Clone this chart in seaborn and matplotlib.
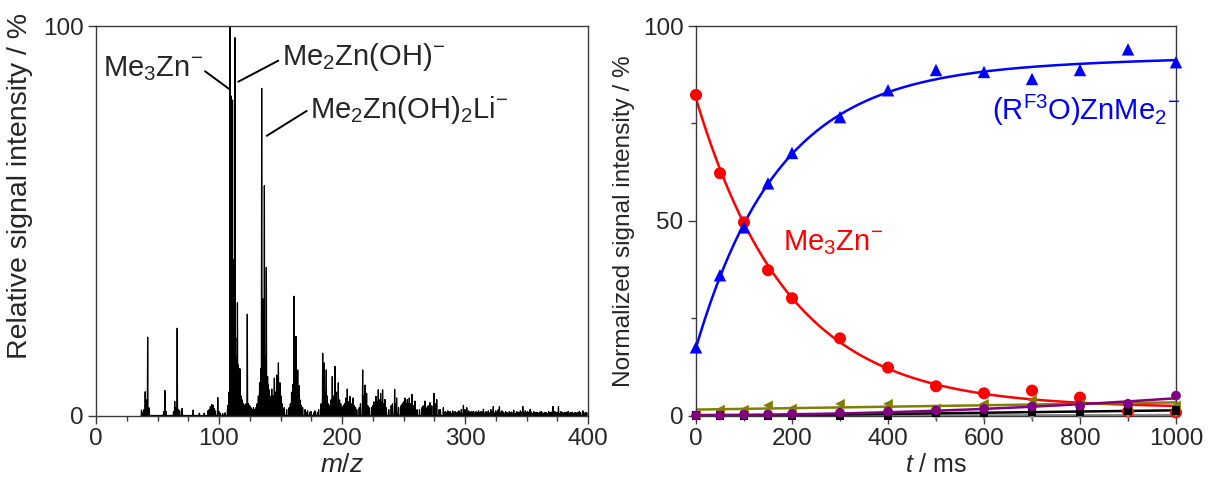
import numpy as np
import pandas as pd
import matplotlib
matplotlib.use("Agg")
import matplotlib.pyplot as plt
import seaborn as sns

# ---------------- mass spectrum (m/z, relative intensity in %) ----------------
peak_mz = [37, 38, 39, 40, 41, 42, 43, 55, 56, 57, 63, 64, 65, 66, 67, 68, 70, 79, 84, 88,
           91, 92, 93, 94, 95, 96, 97, 99, 100,
           107, 108, 109, 110, 110.6, 111, 111.6, 112, 113, 113.5, 114, 115, 115.5, 116, 117,
           118, 119, 120, 121, 122, 123, 124, 125, 126, 127, 128, 129, 130, 131, 132, 133, 134,
           134.7, 135.5, 136, 136.9, 137.5, 138.5, 139.5, 140, 140.7, 141.5, 142.9, 144, 145,
           146, 146.9, 147.5, 148.3, 149.6, 150.5, 151.5, 153, 155, 157, 158, 159, 160, 161,
           161.6, 162.6, 163.2, 164, 165, 166, 167, 168, 170, 172, 175, 178, 181, 183, 184.3,
           184.9, 185.6, 186.3, 187.2, 188, 189, 190, 191, 192.1, 193, 194.3, 195.5, 197, 198,
           199, 200, 201, 202, 203, 204.3, 205.3, 206.5, 207.5, 209, 210, 211, 212, 214, 215,
           216.8, 217.6, 218.7, 220, 221, 222, 224, 225, 226, 227.6, 228.5, 229.5, 230.5, 231.4,
           232.2, 233, 234, 234.9, 236, 238, 240, 241, 242.8, 243.6, 244.4, 246, 248, 249, 250,
           251.2, 252, 253.1, 254, 254.7, 255.8, 256.9, 258, 259.3, 261, 263, 265, 266, 267.5,
           269, 270, 271.5, 273, 274.8, 276, 277, 279, 280, 282.4, 284, 286, 288, 290, 292, 295,
           297, 298.7, 300, 301.4, 303, 305, 307, 309, 311, 313, 315, 317, 319, 321, 323, 325,
           327, 328, 330, 333, 336, 339.6, 342, 345, 347, 349, 351, 353, 356, 359, 362, 365, 368,
           371.5, 373, 376, 378, 381, 384, 387, 390, 393, 395.8, 398]
peak_int = [1.4, 0.8, 1.5, 6.1, 4.0, 20.1, 2.0, 1.0, 6.4, 1.0, 1.0, 3.6, 2.0, 22.4, 1.5, 1.2, 1.8, 1.4, 0.6, 0.6,
            1.2, 1.5, 2.3, 2.8, 2.7, 1.8, 1.2, 4.6, 1.0,
            2.5, 6.0, 100, 82, 80, 81, 40, 30, 97, 20, 15, 29, 13, 12, 12,
            5, 4, 3, 2.5, 3, 26, 3, 2.5, 2, 1.5, 2, 1.5, 2, 3, 5, 8.4, 12,
            84, 30, 20, 59, 15, 38, 10, 8, 6.6, 5, 6.8, 5, 9.6,
            6, 10.4, 7, 13.5, 8.4, 5, 3, 2, 1.5, 2, 3, 6, 8, 30.6,
            12, 20.3, 10, 11.7, 7.7, 4, 2.5, 2, 1.5, 1.2, 1, 1.2, 1.5, 3, 16,
            8, 13.5, 6, 11.7, 5, 3, 2.5, 4, 10, 5, 12.6, 6, 8.4, 4,
            3, 2, 2.5, 3, 4.5, 6.8, 3.5, 4.9, 3, 4.5, 2.5, 2, 1.5, 2, 3,
            11.7, 5, 7.8, 5.7, 2.5, 2, 2, 2.5, 3.5, 4.9, 3.5, 6.6, 4, 5.7,
            3.5, 6.6, 3, 4.1, 2, 1.5, 2.5, 3, 6.7, 3, 4.5, 2, 2.5, 3, 3.5,
            4.5, 3, 4.1, 3, 4.5, 3, 5.4, 2.5, 3.7, 1.5, 1.5, 2, 2.5, 3.7,
            2, 2.5, 3.3, 2.5, 5.7, 3, 4.1, 1.5, 1.5, 2, 1, 1.2, 1, 1.2, 1, 1.2,
            1.5, 2.6, 1.5, 2, 1.2, 1, 1, 1, 1.2, 1, 1.6, 1, 1.2, 1.5, 2.3, 1.2,
            1.5, 2.3, 1.2, 1, 1, 1.4, 1, 1.2, 2.3, 1.2, 1, 1.6, 1, 0.8, 1, 0.8, 1,
            2.3, 1, 2.3, 1, 0.8, 1, 0.8, 0.8, 1, 1.2, 0.8]

# low-level chemical noise along the baseline
noise_mz = [101, 103, 105, 171, 174, 177, 180, 283, 285, 287, 289, 291, 293, 294, 296, 299,
            302, 304, 306, 308, 310, 312, 314, 316, 318, 320, 322, 324, 326, 329, 331, 332,
            334, 335, 337, 338, 341, 343, 344, 346, 348, 350, 352, 354, 355, 357, 358, 360,
            361, 363, 364, 366, 367, 369, 370, 372, 374, 375, 377, 379, 380, 382, 383, 385,
            386, 388, 389, 391, 392, 394, 396, 397, 399]
noise_int = [0.6, 0.5, 0.7, 0.8, 0.9, 0.7, 0.8, 0.8, 0.7, 0.9, 0.6, 0.8, 0.7, 0.9, 0.6, 0.9,
             0.8, 0.7, 0.9, 0.6, 0.8, 0.7, 0.9, 0.6, 0.8, 0.7, 0.9, 0.6, 0.8, 0.7, 0.9, 0.6,
             0.8, 0.5, 0.7, 0.9, 0.6, 0.8, 0.7, 0.9, 0.6, 0.8, 0.7, 0.9, 0.5, 0.7, 0.8, 0.6,
             0.9, 0.7, 0.6, 0.8, 0.5, 0.7, 0.9, 0.6, 0.8, 0.7, 0.5, 0.8, 0.6, 0.7, 0.9, 0.6,
             0.8, 0.5, 0.7, 0.6, 0.8, 0.7, 0.9, 0.6, 0.7]

# ---------------- kinetics (t in ms, normalized intensity in %) ----------------
t_ms = [0, 50, 100, 150, 200, 300, 400, 500, 600, 700, 800, 900, 1000]
me3zn = [82.3, 62.2, 49.6, 37.3, 30.1, 19.8, 12.3, 7.5, 5.7, 6.4, 4.6, 1.0, 0.8]
product = [17.5, 36.0, 48.3, 59.6, 67.4, 76.6, 83.5, 88.7, 88.2, 86.4, 88.7, 94.0, 90.7]
olive_sp = [0.0, 1.5, 1.5, 2.6, 1.8, 3.0, 3.0, 1.8, 3.0, 4.0, 3.0, 2.5, 2.6]
grey_sp = [0.0, 0.0, 0.0, 0.0, 0.0, 0.0, 0.0, -0.2, -0.3, -0.2, 0.0, 0.2, 0.5]
black_sp = [0.0, 0.0, 0.0, 0.0, 0.0, 0.0, 0.0, 0.6, 0.8, 1.0, 1.0, 1.3, 1.3]
purple_sp = [0.0, 0.0, 0.2, 0.3, 0.4, 0.7, 1.0, 1.3, 1.7, 2.3, 2.5, 3.0, 5.1]

sns.set_style("ticks")
plt.rcParams["font.family"] = ["Liberation Sans", "DejaVu Sans"]
plt.rcParams["mathtext.fontset"] = "custom"
plt.rcParams["mathtext.rm"] = "Liberation Sans"
plt.rcParams["mathtext.it"] = "Liberation Sans:italic"
plt.rcParams["mathtext.bf"] = "Liberation Sans:bold"

frame_col = "#3a3a3a"
tick_fs = 17.5

fig = plt.figure(figsize=(12.17, 4.83), dpi=100)
W, H = 1217, 483
ax1 = fig.add_axes([96 / W, 1 - 415.5 / H, (588 - 96) / W, (415.5 - 26) / H])
ax2 = fig.add_axes([696 / W, 1 - 415.5 / H, (1176 - 696) / W, (415.5 - 26) / H])

# ---- stick spectrum: each peak drawn as a narrow spike from the baseline ----
hw = 0.3
prof_x, prof_y = [], []
for mz, h in sorted(zip(peak_mz + noise_mz, peak_int + noise_int)):
    prof_x += [mz - hw, mz, mz + hw]
    prof_y += [0.0, h, 0.0]
spec = pd.DataFrame({"mz": prof_x, "I": prof_y})
sns.lineplot(data=spec, x="mz", y="I", ax=ax1, sort=False, estimator=None,
             color="black", lw=0.9)

ax1.set_xlim(0, 400)
ax1.set_ylim(0, 100)
ax1.set_xticks([0, 100, 200, 300, 400])
ax1.set_xticks(np.arange(0, 401, 25), minor=True)
ax1.set_yticks([0, 100])
ax1.set_xlabel("$m$/$z$", fontsize=19, labelpad=2)
ax1.set_ylabel("Relative signal intensity / %", fontsize=20.5)
ax1.yaxis.set_label_coords(-0.128, 0.588)

ann_fs = 21
ax1.text(5.7, 87.2, "Me$_3$Zn$^{-}$", fontsize=ann_fs, va="baseline", ha="left")
ax1.plot([88.6, 108.4], [88.4, 83.8], color="black", lw=1.4)
ax1.text(151, 90.0, "Me$_2$Zn(OH)$^{-}$", fontsize=ann_fs, va="baseline", ha="left")
ax1.plot([115.7, 148.2], [85.7, 91.1], color="black", lw=1.4)
ax1.text(174, 76.5, "Me$_2$Zn(OH)$_2$Li$^{-}$", fontsize=ann_fs, va="baseline", ha="left")
ax1.plot([138.8, 171.3], [71.8, 78.2], color="black", lw=1.4)

# ---- kinetics fits computed from the measured points ----
t = np.asarray(t_ms, dtype=float)
t_fit = np.linspace(0, 1000, 401)


def fit_exp(y, with_slope=False):
    y = np.asarray(y, dtype=float)
    best = None
    for k in np.linspace(0.0005, 0.03, 600):
        cols = [np.ones_like(t), np.exp(-k * t)]
        if with_slope:
            cols.append(t)
        A = np.column_stack(cols)
        coef, *_ = np.linalg.lstsq(A, y, rcond=None)
        err = np.sum((A @ coef - y) ** 2)
        if best is None or err < best[0]:
            best = (err, k, coef)
    _, k, coef = best
    cols = [np.ones_like(t_fit), np.exp(-k * t_fit)]
    if with_slope:
        cols.append(t_fit)
    return np.column_stack(cols) @ coef


red_fit = fit_exp(me3zn)
blue_fit = fit_exp(product, with_slope=True)
olive_fit = np.polyval(np.polyfit(t, olive_sp, 1), t_fit)
grey_fit = np.polyval(np.polyfit(t, grey_sp, 1), t_fit)
black_fit = np.polyval(np.polyfit(t, black_sp, 1), t_fit)
purple_fit = np.polyval(np.polyfit(t, purple_sp, 2), t_fit)

sns.lineplot(x=t_fit, y=red_fit, ax=ax2, color="#ff0000", lw=1.8)
sns.lineplot(x=t_fit, y=blue_fit, ax=ax2, color="#0000ff", lw=1.8)
sns.scatterplot(x=t_ms, y=me3zn, ax=ax2, color="#ff0000", marker="o", s=75,
                edgecolor="none", clip_on=False, zorder=3)
sns.scatterplot(x=t_ms, y=product, ax=ax2, color="#0000ff", marker="^", s=80,
                edgecolor="none", clip_on=False, zorder=4)

minor = [
    (grey_sp, grey_fit, "#8c8c8c", "v", 6),
    (olive_sp, olive_fit, "#808000", "<", 7),
    (black_sp, black_fit, "#000000", "s", 6),
    (purple_sp, purple_fit, "#800080", "o", 7),
]
for ys, yf, col, mk, ms in minor:
    sns.lineplot(x=t_fit, y=yf, ax=ax2, color=col, lw=1.8)
    sns.scatterplot(x=t_ms, y=ys, ax=ax2, color=col, marker=mk, s=ms ** 2,
                    edgecolor="none", clip_on=False, zorder=5)

ax2.set_xlim(0, 1000)
ax2.set_ylim(0, 100)
ax2.set_xticks([0, 200, 400, 600, 800, 1000])
ax2.set_xticks(np.arange(0, 1001, 100), minor=True)
ax2.set_yticks([0, 50, 100])
ax2.set_yticks([25, 75], minor=True)
ax2.set_xlabel("$t$ / ms", fontsize=18, labelpad=2)
ax2.set_ylabel("Normalized signal intensity / %", fontsize=17.6)
ax2.yaxis.set_label_coords(-0.127, 0.5)

ax2.text(181, 44.5, "Me$_3$Zn$^{-}$", fontsize=ann_fs, color="#ff0000", va="center", ha="left")
ax2.text(616, 78.4, "(R$^{\\mathrm{F3}}$O)ZnMe$_2$$^{-}$", fontsize=ann_fs, color="#0000ff",
         va="center", ha="left")

for ax in (ax1, ax2):
    for sp in ax.spines.values():
        sp.set_visible(True)
        sp.set_color(frame_col)
        sp.set_linewidth(1.0)
    ax.tick_params(which="major", direction="out", length=6, width=1.0,
                   color=frame_col, labelsize=tick_fs, pad=3)
    ax.tick_params(which="minor", direction="out", length=3.5, width=1.0, color=frame_col)
    ax.tick_params(top=False, right=False)

fig.savefig("out.png", dpi=100)
